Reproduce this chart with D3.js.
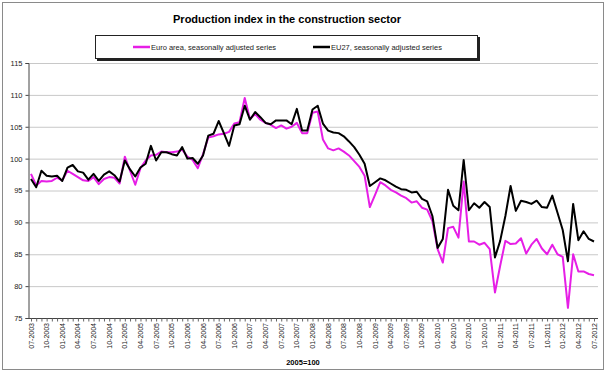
<!DOCTYPE html>
<html>
<head>
<meta charset="utf-8">
<script src="https://cdn.jsdelivr.net/npm/d3@7"></script>
<style>
  body { margin: 0; background: #fff; }
  text { font-family: Arial, "Liberation Sans", sans-serif; }
</style>
</head>
<body>
<div id="chart"></div>
<script>
// Data: monthly, 07-2003 .. 07-2012 (2005=100)
const months = d3.timeMonth
  .range(new Date(2003, 6, 1), new Date(2012, 7, 1))
  .map(d3.timeFormat('%m-%Y'));

const euroArea = [
  97.6, 95.8, 96.5, 96.4, 96.5, 97.0, 96.6, 98.1, 97.6, 97.1, 96.6, 96.5,
  97.1, 96.0, 96.8, 97.1, 97.0, 96.1, 100.3, 98.1, 95.9, 98.5, 99.7, 100.5,
  100.6, 101.1, 101.0, 101.0, 101.1, 101.4, 100.3, 99.8, 98.5, 100.7, 103.3, 103.5,
  103.8, 103.9, 104.2, 105.5, 105.7, 109.5, 106.2, 107.0, 106.1, 105.6, 105.3, 104.8,
  105.2, 104.7, 105.0, 105.6, 104.0, 104.0, 107.2, 107.4, 103.0, 101.6, 101.3, 101.6,
  101.1, 100.5, 99.6, 98.7, 97.3, 92.4, 94.3, 96.3, 95.8, 95.1, 94.7, 94.2,
  93.8, 93.1, 93.3, 92.3, 92.0, 90.2, 85.8, 83.7, 89.1, 89.3, 87.6, 96.4,
  87.0, 87.0, 86.5, 86.8, 85.8, 79.0, 83.2, 87.1, 86.6, 86.7, 87.5, 85.1,
  86.5, 87.4, 85.9, 85.0, 86.5, 85.0, 84.6, 76.6, 85.0, 82.3, 82.3, 81.9,
  81.7
];

const eu27 = [
  96.8, 95.5, 98.1, 97.3, 97.2, 97.3, 96.5, 98.6, 99.0, 98.0, 97.8, 96.7,
  97.6, 96.5, 97.5, 98.0, 97.4, 96.4, 99.7, 98.3, 97.2, 98.6, 99.2, 102.0,
  99.7, 101.0, 101.0, 100.7, 100.5, 101.8, 100.0, 100.1, 99.2, 100.5, 103.6, 103.9,
  105.9, 104.0, 102.0, 105.2, 105.4, 108.3, 106.1, 107.3, 106.5, 105.6, 105.4, 106.0,
  106.0, 106.0, 105.4, 107.8, 104.4, 104.4, 107.7, 108.3, 105.5, 104.4, 104.1, 104.0,
  103.5, 102.7, 101.8, 100.6, 99.2, 95.7, 96.3, 96.9, 96.6, 96.1, 95.6, 95.2,
  95.1, 94.7, 94.8, 93.7, 93.3, 91.0, 86.0, 87.4, 95.1, 92.6, 91.9, 99.8,
  91.9, 93.0, 92.3, 93.2, 92.4, 84.5, 87.1, 91.0, 95.7, 91.8, 93.4, 93.2,
  92.9, 93.4, 92.4, 92.3, 94.2, 91.5, 88.8, 83.9, 92.9, 87.2, 88.6, 87.4,
  87.0
];

const tickLabels = [
  '07-2003', '10-2003', '01-2004', '04-2004', '07-2004', '10-2004',
  '01-2005', '04-2005', '07-2005', '10-2005', '01-2006', '04-2006',
  '07-2006', '10-2006', '01-2007', '04-2007', '07-2007', '10-2007',
  '01-2008', '04-2008', '07-2008', '10-2008', '01-2009', '04-2009',
  '07-2009', '10-2009', '01-2010', '04-2010', '07-2010', '10-2010',
  '01-2011', '04-2011', '07-2011', '10-2011', '01-2012', '04-2012',
  '07-2012'
];

const yTicks = [75, 80, 85, 90, 95, 100, 105, 110, 115];

const series = [
  { name: 'Euro area, seasonally adjusted series', values: euroArea, color: '#e61ee6' },
  { name: 'EU27, seasonally adjusted series', values: eu27, color: '#000000' }
];

// Dimensions
const WIDTH = 610;
const HEIGHT = 376;
const PLOT = { LEFT: 28, RIGHT: 598, TOP: 63, BOTTOM: 318 };

const svg = d3
  .select('#chart')
  .append('svg')
  .attr('width', WIDTH)
  .attr('height', HEIGHT);

// Outer frame
svg.append('rect')
  .attr('x', 2.5).attr('y', 2.5)
  .attr('width', 601).attr('height', 367)
  .attr('fill', '#fff')
  .attr('stroke', '#8a8a8a');

// Scales
const x = d3.scalePoint().domain(months).range([31, 594]);
const y = d3.scaleLinear().domain([75, 115]).range([PLOT.BOTTOM, PLOT.TOP]);

// Grid
svg.append('g')
  .selectAll('line')
  .data(yTicks.filter((d) => d > 75))
  .join('line')
  .attr('x1', PLOT.LEFT).attr('x2', PLOT.RIGHT)
  .attr('y1', (d) => y(d) + 0.5).attr('y2', (d) => y(d) + 0.5)
  .attr('stroke', '#c8c8c8');

// Y axis
const yAxis = svg.append('g')
  .attr('transform', `translate(${PLOT.LEFT + 0.5},0)`)
  .call(d3.axisLeft(y).tickValues(yTicks).tickSize(3).tickPadding(3));
yAxis.select('.domain').attr('stroke', '#444');
yAxis.selectAll('.tick line').attr('stroke', '#444');
yAxis.selectAll('text').attr('font-size', 7.5).attr('fill', '#222');

// X axis
const xAxis = svg.append('g')
  .attr('transform', `translate(0,${PLOT.BOTTOM + 0.5})`)
  .call(d3.axisBottom(x).tickValues(months).tickSize(3).tickFormat(''));
xAxis.select('.domain')
  .attr('d', `M${PLOT.LEFT},0H${PLOT.RIGHT}`)
  .attr('stroke', '#444');
xAxis.selectAll('.tick line').attr('stroke', '#666');

svg.append('g')
  .selectAll('text')
  .data(tickLabels)
  .join('text')
  .attr('transform', (d) => `translate(${x(d) + 2.5},${PLOT.BOTTOM + 5}) rotate(-90)`)
  .attr('text-anchor', 'end')
  .attr('font-size', 7)
  .attr('fill', '#222')
  .text((d) => d);

// Lines
const line = d3.line()
  .x((d, i) => x(months[i]))
  .y((d) => y(d));

svg.append('g')
  .selectAll('path')
  .data(series)
  .join('path')
  .attr('d', (d) => line(d.values))
  .attr('fill', 'none')
  .attr('stroke', (d) => d.color)
  .attr('stroke-width', 2)
  .attr('stroke-linejoin', 'round');

// Title
svg.append('text')
  .attr('x', 287).attr('y', 23)
  .attr('text-anchor', 'middle')
  .attr('font-size', 11)
  .attr('font-weight', 'bold')
  .text('Production index in the construction sector');

// Legend
const legend = svg.append('g');
legend.append('rect')
  .attr('x', 97).attr('y', 37)
  .attr('width', 383).attr('height', 24)
  .attr('fill', '#222');
legend.append('rect')
  .attr('x', 95.5).attr('y', 35.5)
  .attr('width', 382).attr('height', 23)
  .attr('fill', '#fff')
  .attr('stroke', '#222');

const legendX = [133, 313];
const items = legend.selectAll('g.item')
  .data(series)
  .join('g')
  .attr('transform', (d, i) => `translate(${legendX[i]},47)`);
items.append('line')
  .attr('x1', 0).attr('x2', 17)
  .attr('stroke', (d) => d.color)
  .attr('stroke-width', 2.5);
items.append('text')
  .attr('x', 18).attr('y', 2.5)
  .attr('font-size', 7.5)
  .attr('fill', '#222')
  .text((d) => d.name);

// Base note
svg.append('text')
  .attr('x', 303).attr('y', 365)
  .attr('text-anchor', 'middle')
  .attr('font-size', 7.5)
  .attr('font-weight', 'bold')
  .text('2005=100');
</script>
</body>
</html>
